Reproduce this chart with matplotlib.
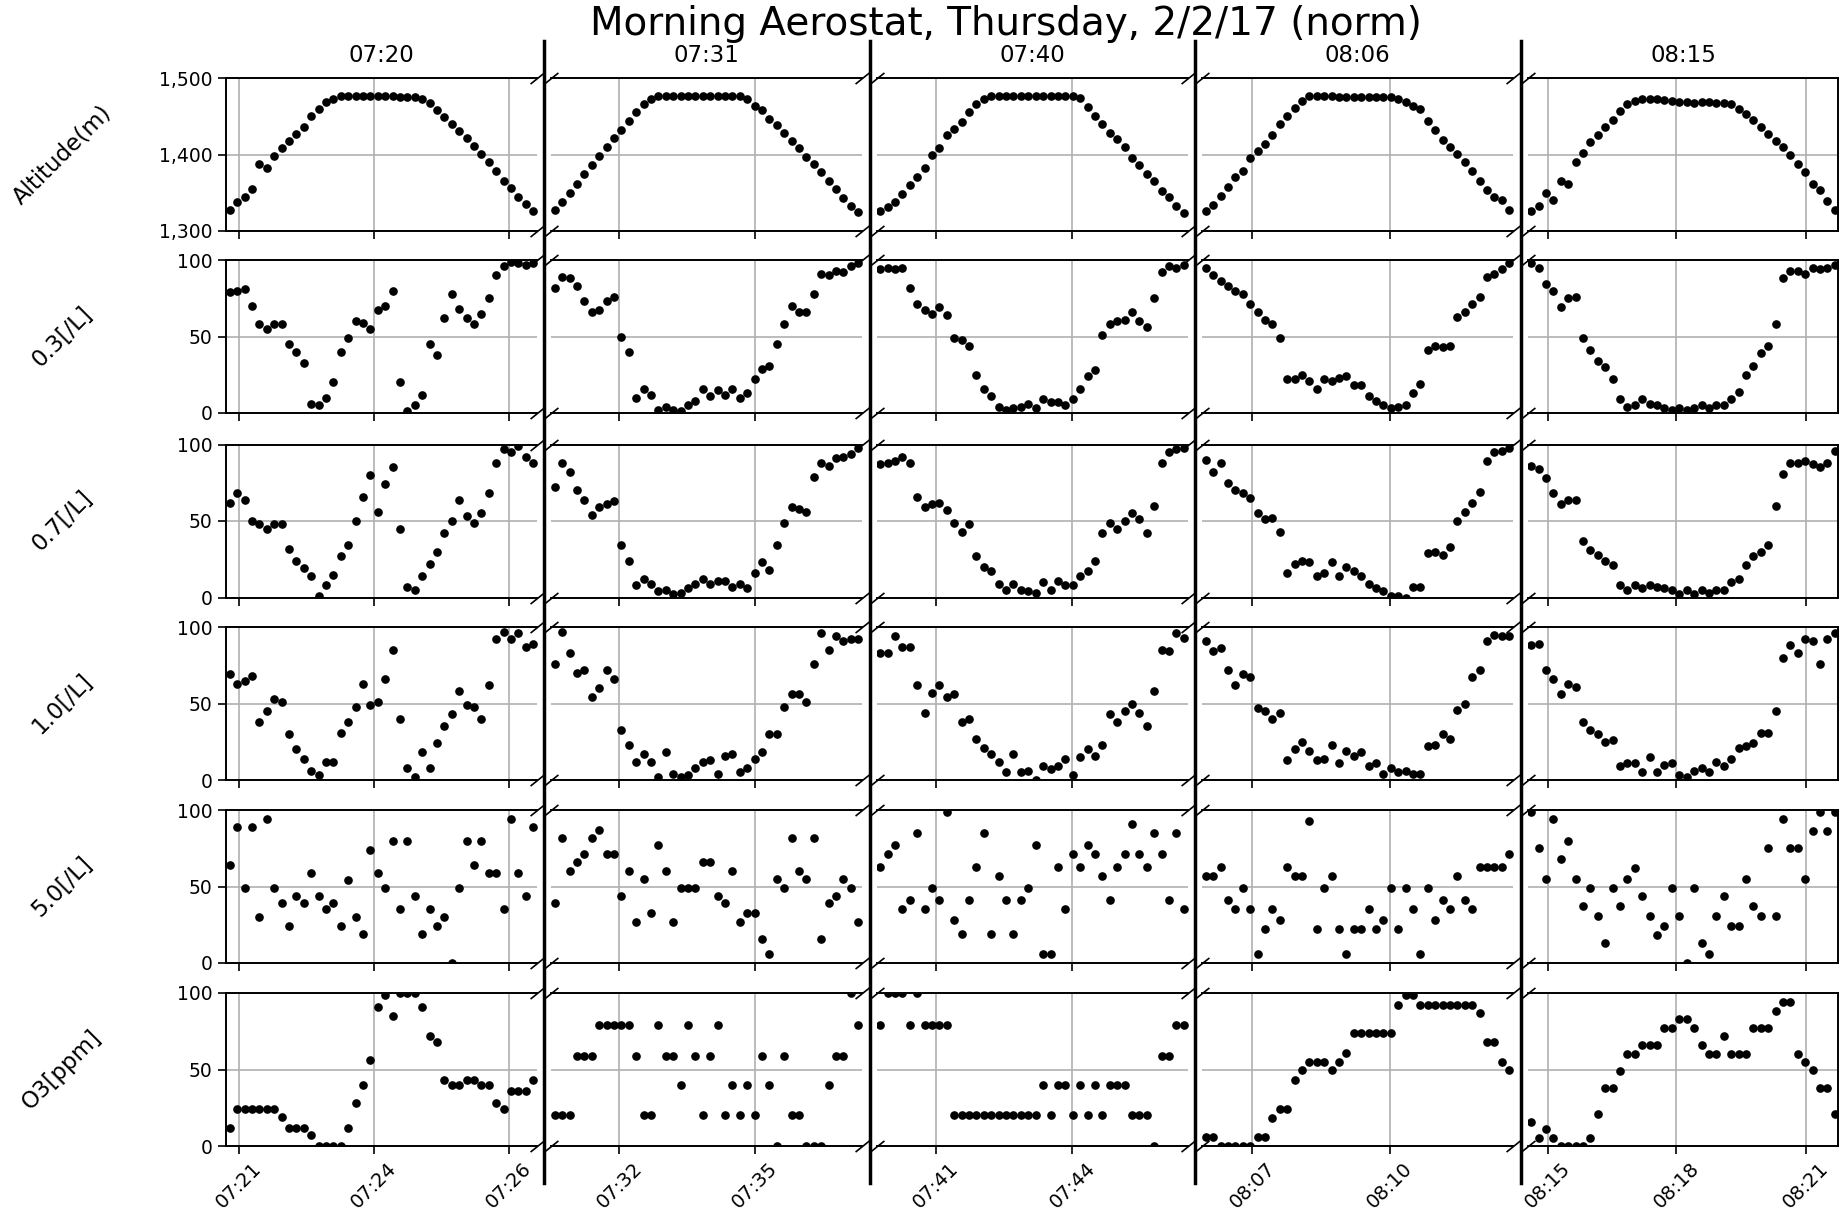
import matplotlib
matplotlib.use("Agg")
import matplotlib.pyplot as plt
from matplotlib.lines import Line2D
from matplotlib.ticker import StrMethodFormatter

# seconds since first sample of each flight
sample_s = [5, 15, 25, 35, 45, 55, 65, 75, 85, 95, 105, 115, 125, 135,
            145, 155, 165, 175, 185, 195, 205, 215, 225, 235, 245, 255,
            265, 275, 285, 295, 305, 315, 325, 335, 345, 355, 365, 375,
            385, 395, 405, 415]

flights = ["07:20", "07:31", "07:40", "08:06", "08:15"]
row_labels = ["Altitude(m)", "0.3[/L]", "0.7[/L]", "1.0[/L]", "5.0[/L]", "O3[ppm]"]

tick_s = [[16.9, 199.2, 382.1], [92.5, 275.4], [80.5, 264.3],
          [68.1, 253.8], [27.4, 201.2, 376.0]]
tick_labels = [["07:21", "07:24", "07:26"], ["07:32", "07:35"], ["07:41", "07:44"],
               ["08:07", "08:10"], ["08:15", "08:18", "08:21"]]

# ---- flight 07:20
altitude_0720 = [1328, 1338, 1345, 1355, 1388, 1382, 1398, 1408, 1418, 1427,
                 1436, 1450, 1460, 1468, 1473, 1476, 1476, 1476, 1476, 1476,
                 1476, 1476, 1476, 1475, 1475, 1475, 1473, 1467, 1458, 1449,
                 1440, 1431, 1421, 1411, 1401, 1390, 1378, 1365, 1356, 1345,
                 1335, 1326]
pm03_0720 = [79, 80, 81, 70, 58, 55, 58, 58, 45, 40, 33, 6, 5, 10, 20, 40, 49, 60, 59, 55,
             67, 70, 80, 20, 1, 5, 12, 45, 38, 62, 78, 68, 62, 58, 65, 75, 90, 96, 99, 98,
             97, 98]
pm07_0720 = [62, 68, 64, 50, 48, 45, 48, 48, 32, 24, 19, 14, 1, 8, 15, 27, 34, 50, 66, 80,
             56, 74, 85, 45, 7, 5, 14, 22, 30, 42, 50, 64, 53, 49, 55, 68, 88, 97, 95, 99,
             92, 88]
pm10_0720 = [69, 63, 65, 68, 38, 45, 53, 51, 30, 20, 14, 6, 3, 12, 12, 31, 38, 48, 63, 49,
             51, 66, 85, 40, 8, 2, 18, 8, 24, 35, 43, 58, 49, 48, 40, 62, 92, 97, 92, 96,
             87, 89]
pm50_0720 = [64, 89, 49, 89, 30, 94, 49, 39, 24, 44, 39, 59, 44, 35, 39, 24, 54, 30, 19, 74,
             59, 49, 80, 35, 80, 44, 19, 35, 24, 30, 0, 49, 80, 64, 80, 59, 59, 35, 94, 59,
             44, 89]
o3_0720 = [12, 24, 24, 24, 24, 24, 24, 19, 12, 12, 12, 7, 0, 0, 0, 0, 12, 28, 40, 56,
           91, 99, 85, 100, 100, 100, 91, 72, 68, 43, 40, 40, 43, 43, 40, 40, 28, 24, 36, 36,
           36, 43]

# ---- flight 07:31
altitude_0731 = [1327, 1338, 1350, 1362, 1374, 1386, 1398, 1410, 1421, 1432,
                 1444, 1456, 1466, 1473, 1476, 1477, 1477, 1477, 1476, 1476,
                 1476, 1476, 1476, 1476, 1476, 1476, 1473, 1464, 1458, 1447,
                 1438, 1428, 1418, 1408, 1397, 1387, 1377, 1366, 1355, 1343,
                 1333, 1325]
pm03_0731 = [82, 89, 88, 83, 73, 66, 67, 73, 76, 50, 40, 10, 16, 12, 2, 4, 2, 1, 5, 8,
             16, 11, 15, 12, 16, 10, 13, 22, 29, 31, 45, 58, 70, 66, 66, 78, 91, 90, 93, 92,
             96, 98]
pm07_0731 = [72, 88, 82, 70, 64, 54, 59, 61, 63, 34, 24, 8, 12, 9, 4, 5, 2, 3, 6, 9,
             12, 9, 11, 11, 7, 9, 6, 16, 23, 18, 34, 49, 59, 58, 56, 79, 88, 86, 91, 92,
             94, 98]
pm10_0731 = [76, 97, 83, 70, 72, 54, 60, 72, 66, 33, 23, 12, 17, 12, 2, 18, 4, 2, 3, 8,
             12, 13, 4, 16, 17, 5, 8, 14, 18, 30, 30, 48, 56, 56, 51, 76, 96, 85, 94, 91,
             92, 92]
pm50_0731 = [39, 82, 60, 66, 71, 82, 87, 71, 71, 44, 60, 27, 55, 33, 77, 60, 27, 49, 49, 49,
             66, 66, 44, 39, 60, 27, 33, 33, 16, 6, 55, 49, 82, 60, 55, 82, 16, 39, 44, 55,
             49, 27]
o3_0731 = [20, 20, 20, 59, 59, 59, 79, 79, 79, 79, 79, 59, 20, 20, 79, 59, 59, 40, 79, 59,
           20, 59, 79, 20, 40, 20, 40, 20, 59, 40, 0, 59, 20, 20, 0, 0, 0, 40, 59, 59,
           100, 79]

# ---- flight 07:40
altitude_0740 = [1326, 1332, 1338, 1348, 1360, 1370, 1382, 1400, 1408, 1425,
                 1433, 1442, 1456, 1466, 1473, 1476, 1476, 1476, 1476, 1476,
                 1476, 1476, 1476, 1476, 1476, 1476, 1476, 1474, 1462, 1450,
                 1440, 1428, 1420, 1410, 1396, 1386, 1374, 1365, 1352, 1345,
                 1333, 1324]
pm03_0740 = [94, 95, 94, 95, 82, 71, 67, 65, 69, 64, 49, 48, 44, 25, 16, 11, 4, 2, 3, 4,
             6, 3, 9, 7, 7, 5, 9, 16, 24, 28, 51, 58, 60, 61, 66, 60, 56, 75, 92, 96,
             95, 97]
pm07_0740 = [87, 88, 89, 92, 88, 66, 59, 61, 62, 57, 49, 43, 48, 27, 20, 17, 9, 5, 9, 5,
             4, 3, 10, 5, 11, 8, 8, 14, 17, 24, 42, 49, 45, 50, 55, 51, 42, 60, 88, 95,
             97, 98]
pm10_0740 = [83, 83, 94, 87, 87, 62, 44, 57, 62, 54, 56, 38, 40, 27, 21, 17, 12, 5, 17, 5,
             6, 0, 9, 7, 9, 14, 3, 15, 20, 16, 23, 43, 38, 45, 50, 44, 35, 58, 85, 84,
             96, 93]
pm50_0740 = [63, 71, 77, 35, 41, 85, 35, 49, 41, 99, 28, 19, 41, 63, 85, 19, 57, 41, 19, 41,
             49, 77, 6, 6, 63, 35, 71, 63, 77, 71, 57, 41, 63, 71, 91, 71, 63, 85, 71, 41,
             85, 35]
o3_0740 = [79, 100, 100, 100, 79, 100, 79, 79, 79, 79, 20, 20, 20, 20, 20, 20, 20, 20, 20, 20,
           20, 20, 40, 20, 40, 40, 20, 40, 20, 40, 20, 40, 40, 40, 20, 20, 20, 0, 59, 59,
           79, 79]

# ---- flight 08:06
altitude_0806 = [1326, 1334, 1346, 1358, 1370, 1378, 1395, 1404, 1414, 1426,
                 1440, 1450, 1461, 1470, 1476, 1476, 1476, 1476, 1475, 1475,
                 1475, 1475, 1475, 1475, 1475, 1475, 1472, 1468, 1463, 1460,
                 1444, 1432, 1419, 1410, 1401, 1390, 1378, 1366, 1354, 1344,
                 1340, 1327]
pm03_0806 = [95, 90, 86, 83, 80, 78, 71, 66, 61, 58, 49, 22, 22, 25, 21, 16, 22, 21, 23, 24,
             18, 18, 11, 8, 5, 3, 4, 5, 13, 19, 41, 44, 43, 44, 63, 66, 71, 76, 89, 91,
             94, 98]
pm07_0806 = [90, 82, 88, 75, 70, 68, 65, 55, 51, 52, 43, 16, 22, 24, 23, 14, 16, 23, 14, 20,
             17, 14, 9, 6, 4, 1, 1, 0, 7, 7, 29, 30, 28, 33, 50, 56, 62, 69, 89, 95,
             96, 98]
pm10_0806 = [91, 84, 86, 72, 62, 69, 67, 47, 45, 40, 44, 13, 20, 25, 19, 13, 14, 23, 11, 19,
             16, 18, 9, 11, 4, 8, 5, 6, 4, 4, 22, 23, 30, 27, 46, 50, 67, 72, 91, 95,
             94, 94]
pm50_0806 = [57, 57, 63, 41, 35, 49, 35, 6, 22, 35, 28, 63, 57, 57, 93, 22, 49, 57, 22, 6,
             22, 22, 35, 22, 28, 49, 22, 49, 35, 6, 49, 28, 41, 35, 57, 41, 35, 63, 63, 63,
             63, 71]
o3_0806 = [6, 6, 0, 0, 0, 0, 0, 6, 6, 18, 24, 24, 43, 50, 55, 55, 55, 50, 55, 61,
           74, 74, 74, 74, 74, 74, 92, 99, 99, 92, 92, 92, 92, 92, 92, 92, 92, 87, 68, 68,
           55, 50]

# ---- flight 08:15
altitude_0815 = [1326, 1333, 1350, 1341, 1366, 1362, 1390, 1402, 1416, 1426,
                 1436, 1445, 1457, 1466, 1470, 1473, 1473, 1472, 1471, 1470,
                 1469, 1468, 1467, 1468, 1468, 1467, 1467, 1466, 1460, 1453,
                 1445, 1436, 1427, 1418, 1410, 1399, 1388, 1377, 1362, 1353,
                 1339, 1328]
pm03_0815 = [98, 95, 84, 80, 69, 75, 76, 49, 41, 34, 30, 22, 9, 4, 5, 9, 6, 5, 3, 2,
             3, 2, 3, 5, 3, 5, 5, 9, 14, 25, 31, 39, 44, 58, 88, 93, 93, 91, 95, 94,
             95, 97]
pm07_0815 = [86, 84, 78, 68, 61, 64, 64, 37, 31, 28, 24, 21, 8, 5, 8, 6, 8, 7, 6, 5,
             2, 5, 2, 5, 3, 5, 5, 10, 12, 21, 27, 30, 34, 60, 81, 88, 88, 89, 87, 85,
             88, 96]
pm10_0815 = [88, 89, 72, 66, 56, 63, 61, 38, 33, 30, 25, 26, 9, 11, 11, 5, 15, 5, 10, 11,
             3, 2, 6, 8, 5, 12, 9, 14, 21, 22, 24, 31, 31, 45, 80, 88, 83, 92, 91, 76,
             92, 96]
pm50_0815 = [99, 75, 55, 94, 68, 80, 55, 37, 49, 31, 13, 49, 37, 55, 62, 44, 31, 18, 24, 49,
             31, 0, 49, 13, 6, 31, 44, 24, 24, 55, 37, 31, 75, 31, 94, 75, 75, 55, 86, 99,
             86, 99]
o3_0815 = [16, 5, 11, 5, 0, 0, 0, 0, 5, 21, 38, 38, 49, 60, 60, 66, 66, 66, 77, 77,
           83, 83, 77, 66, 60, 60, 72, 60, 60, 60, 77, 77, 77, 88, 94, 94, 60, 55, 50, 38,
           38, 21]

series = [
    [altitude_0720, pm03_0720, pm07_0720, pm10_0720, pm50_0720, o3_0720],
    [altitude_0731, pm03_0731, pm07_0731, pm10_0731, pm50_0731, o3_0731],
    [altitude_0740, pm03_0740, pm07_0740, pm10_0740, pm50_0740, o3_0740],
    [altitude_0806, pm03_0806, pm07_0806, pm10_0806, pm50_0806, o3_0806],
    [altitude_0815, pm03_0815, pm07_0815, pm10_0815, pm50_0815, o3_0815],
]

# layout in pixels
W, H = 1839, 1219
col_left = [226, 551, 876.5, 1202, 1527.5]
col_w = 311
row_top = [78, 260, 444.5, 627, 810, 993]
row_h = 153


def box(left, top, w, h):
    return [left / W, 1 - (top + h) / H, w / W, h / H]


fig = plt.figure(figsize=(W / 100, H / 100), dpi=100)

brk = dict(marker=[(-1, -0.8), (1, 0.8)], markersize=10, linestyle="none",
           color="k", mec="k", mew=1.2, clip_on=False)

for c in range(5):
    for r in range(6):
        ax = fig.add_axes(box(col_left[c], row_top[r], col_w, row_h))
        vals = series[c][r]
        n = min(len(vals), len(sample_s))
        ax.plot(sample_s[:n], vals[:n], "o", color="black", markersize=5.2, zorder=3)
        ax.set_xlim(0, 420)
        if r == 0:
            ax.set_ylim(1300, 1500)
            ax.set_yticks([1300, 1400, 1500])
            ax.yaxis.set_major_formatter(StrMethodFormatter("{x:,.0f}"))
        else:
            ax.set_ylim(0, 100)
            ax.set_yticks([0, 50, 100])
        ax.set_xticks(tick_s[c])
        if r == 5:
            ax.set_xticklabels(tick_labels[c], rotation=45)
        else:
            ax.tick_params(axis="x", labelbottom=False)
        ax.set_axisbelow(True)
        ax.grid(True, color="#b0b0b0", linewidth=1.2)
        ax.tick_params(direction="out", length=6, width=1.2)
        ax.tick_params(axis="y", labelsize=13.5)
        ax.tick_params(axis="x", labelsize=14)
        for s in ["top", "bottom", "left", "right"]:
            ax.spines[s].set_linewidth(1.4)
        ax.spines["left"].set_visible(c == 0)
        ax.spines["right"].set_visible(c == 4)
        if c > 0:
            ax.tick_params(axis="y", left=False, labelleft=False)
        if c < 4:
            ax.plot([1, 1], [0, 1], transform=ax.transAxes, **brk)
        if c > 0:
            ax.plot([0, 0], [0, 1], transform=ax.transAxes, **brk)
        if r == 0:
            ax.text(0.5, 1 + 22 / row_h, flights[c], transform=ax.transAxes,
                    ha="center", va="center", fontsize=16.5)
    # separator between flights
    if c > 0:
        x = (col_left[c] - 7) / W
        fig.add_artist(Line2D([x, x], [1 - 41 / H, 1 - 1183 / H],
                              color="black", linewidth=2.5))

for r in range(6):
    fig.text(62 / W, 1 - (row_top[r] + row_h / 2) / H, row_labels[r],
             rotation=45, ha="center", va="center", fontsize=16.5)

fig.text(1006 / W, 1 - 24 / H, "Morning Aerostat, Thursday, 2/2/17 (norm)",
         ha="center", va="center", fontsize=28)

fig.savefig("out.png", dpi=100)
